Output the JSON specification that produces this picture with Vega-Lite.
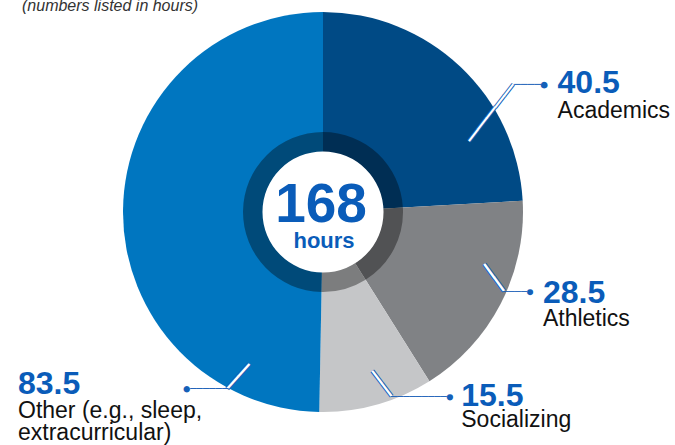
{
  "$schema": "https://vega.github.io/schema/vega-lite/v6.json",
  "width": 646,
  "height": 424,
  "autosize": "none",
  "padding": {"left": 0, "top": 0, "right": 29, "bottom": 21},
  "background": "white",
  "config": {"view": {"stroke": null}, "font": "Liberation Sans"},
  "data": {
    "values": [
      {"category": "Academics", "hours": 40.5, "order": 1, "name": ["Academics"]},
      {"category": "Athletics", "hours": 28.5, "order": 2, "name": ["Athletics"]},
      {"category": "Socializing", "hours": 15.5, "order": 3, "name": ["Socializing"]},
      {"category": "Other", "hours": 83.5, "order": 4, "name": ["Other (e.g., sleep,", "extracurricular)"]}
    ]
  },
  "transform": [
    {"stack": "hours", "groupby": [], "sort": [{"field": "order"}], "as": ["h0", "h1"]},
    {"calculate": "(datum.h0 + datum.h1) / 2", "as": "hmid"}
  ],
  "layer": [
    {
      "mark": {"type": "arc", "radius": 200},
      "encoding": {
        "theta": {"field": "h0", "type": "quantitative", "scale": {"domain": [0, 168]}},
        "theta2": {"field": "h1"},
        "color": {
          "field": "category", "type": "nominal", "legend": null,
          "scale": {"domain": ["Academics", "Athletics", "Socializing", "Other"],
                    "range": ["#004a85", "#808285", "#c5c6c8", "#0076c0"]}
        }
      }
    },
    {
      "mark": {"type": "arc", "radius": 80, "radius2": 60, "fill": "#000000", "fillOpacity": 0.37},
      "encoding": {
        "theta": {"field": "h0", "type": "quantitative"},
        "theta2": {"field": "h1"}
      }
    },
    {
      "transform": [{"filter": "datum.order == 1"}],
      "mark": {"type": "arc", "radius": 60.5, "fill": "#ffffff"},
      "encoding": {}
    },
    {
      "transform": [{"filter": "datum.order == 1"}],
      "mark": {"type": "text", "fontSize": 55, "fontWeight": "bold", "color": "#0a5cb9", "align": "center", "baseline": "alphabetic", "dx": -2, "dy": 10},
      "encoding": {"text": {"value": "168"}}
    },
    {
      "transform": [{"filter": "datum.order == 1"}],
      "mark": {"type": "text", "fontSize": 22, "fontWeight": "bold", "color": "#0a5cb9", "align": "center", "baseline": "alphabetic", "dx": 1, "dy": 36},
      "encoding": {"text": {"value": "hours"}}
    },
    {
      "transform": [{"filter": "datum.order == 1"}],
      "mark": {"type": "text", "fontSize": 16, "fontStyle": "italic", "color": "#333333", "align": "left", "baseline": "alphabetic", "dx": -301, "dy": -201},
      "encoding": {"text": {"value": "(numbers listed in hours)"}}
    },
    {
      "transform": [{"filter": "datum.category == 'Academics'"}],
      "mark": {"type": "text", "radius": 225, "font": "DejaVu Sans Mono", "fontSize": 23.8, "color": "#1560b8", "angle": -52.19, "align": "center", "baseline": "middle", "dx": -42.4, "dy": 51.1},
      "encoding": {"theta": {"field": "hmid", "type": "quantitative"}, "text": {"value": "━━━━━"}}
    },
    {
      "transform": [{"filter": "datum.category == 'Academics'"}],
      "mark": {"type": "text", "radius": 225, "font": "DejaVu Sans Mono", "fontSize": 23.8, "color": "#ffffff", "angle": -52.19, "align": "center", "baseline": "middle", "dx": -42.4, "dy": 51.1},
      "encoding": {"theta": {"field": "hmid", "type": "quantitative"}, "text": {"value": "─────"}}
    },
    {
      "transform": [{"filter": "datum.category == 'Academics'"}],
      "mark": {"type": "text", "radius": 225, "font": "DejaVu Sans Mono", "fontSize": 11.2, "color": "#1560b8", "align": "center", "baseline": "middle", "dx": 53.2, "dy": 36.5},
      "encoding": {"theta": {"field": "hmid", "type": "quantitative"}, "text": {"value": "────●"}}
    },
    {
      "transform": [{"filter": "datum.category == 'Athletics'"}],
      "mark": {"type": "text", "radius": 225, "font": "DejaVu Sans Mono", "fontSize": 27.4, "color": "#1560b8", "angle": 54.0, "align": "center", "baseline": "middle", "dx": -47.5, "dy": 2.5},
      "encoding": {"theta": {"field": "hmid", "type": "quantitative"}, "text": {"value": "━━"}}
    },
    {
      "transform": [{"filter": "datum.category == 'Athletics'"}],
      "mark": {"type": "text", "radius": 225, "font": "DejaVu Sans Mono", "fontSize": 27.4, "color": "#ffffff", "angle": 54.0, "align": "center", "baseline": "middle", "dx": -47.5, "dy": 2.5},
      "encoding": {"theta": {"field": "hmid", "type": "quantitative"}, "text": {"value": "──"}}
    },
    {
      "transform": [{"filter": "datum.category == 'Athletics'"}],
      "mark": {"type": "text", "radius": 225, "font": "DejaVu Sans Mono", "fontSize": 10.1, "color": "#1560b8", "align": "center", "baseline": "middle", "dx": -5.0, "dy": -23.6},
      "encoding": {"theta": {"field": "hmid", "type": "quantitative"}, "text": {"value": "────●"}}
    },
    {
      "transform": [{"filter": "datum.category == 'Socializing'"}],
      "mark": {"type": "text", "radius": 225, "font": "DejaVu Sans Mono", "fontSize": 26.1, "color": "#1560b8", "angle": 52.77, "align": "center", "baseline": "middle", "dx": -36.8, "dy": -25.3},
      "encoding": {"theta": {"field": "hmid", "type": "quantitative"}, "text": {"value": "━━"}}
    },
    {
      "transform": [{"filter": "datum.category == 'Socializing'"}],
      "mark": {"type": "text", "radius": 225, "font": "DejaVu Sans Mono", "fontSize": 26.1, "color": "#ffffff", "angle": 52.77, "align": "center", "baseline": "middle", "dx": -36.8, "dy": -25.3},
      "encoding": {"theta": {"field": "hmid", "type": "quantitative"}, "text": {"value": "──"}}
    },
    {
      "transform": [{"filter": "datum.category == 'Socializing'"}],
      "mark": {"type": "text", "radius": 225, "font": "DejaVu Sans Mono", "fontSize": 10.37, "color": "#1560b8", "align": "center", "baseline": "middle", "dx": 38.6, "dy": -31.3},
      "encoding": {"theta": {"field": "hmid", "type": "quantitative"}, "text": {"value": "─────────●"}}
    },
    {
      "transform": [{"filter": "datum.category == 'Other'"}],
      "mark": {"type": "text", "radius": 225, "font": "DejaVu Sans Mono", "fontSize": 27.1, "color": "#1560b8", "angle": -48.23, "align": "center", "baseline": "middle", "dx": -30.7, "dy": 216.7},
      "encoding": {"theta": {"field": "hmid", "type": "quantitative"}, "text": {"value": "━━"}}
    },
    {
      "transform": [{"filter": "datum.category == 'Other'"}],
      "mark": {"type": "text", "radius": 225, "font": "DejaVu Sans Mono", "fontSize": 27.1, "color": "#ffffff", "angle": -48.23, "align": "center", "baseline": "middle", "dx": -30.7, "dy": 216.7},
      "encoding": {"theta": {"field": "hmid", "type": "quantitative"}, "text": {"value": "──"}}
    },
    {
      "transform": [{"filter": "datum.category == 'Other'"}],
      "mark": {"type": "text", "radius": 225, "font": "DejaVu Sans Mono", "fontSize": 10.63, "color": "#1560b8", "align": "center", "baseline": "middle", "dx": 107.9, "dy": 179.4},
      "encoding": {"theta": {"field": "hmid", "type": "quantitative"}, "text": {"value": "●──────"}}
    },
    {
      "transform": [{"filter": "datum.category == 'Academics'"}],
      "mark": {"type": "text", "radius": 225, "fontSize": 32, "fontWeight": "bold", "color": "#0a5cb9", "align": "left", "baseline": "alphabetic", "dx": 80, "dy": 44.5},
      "encoding": {"theta": {"field": "hmid", "type": "quantitative"}, "text": {"field": "hours", "type": "quantitative", "format": ".1f"}}
    },
    {
      "transform": [{"filter": "datum.category == 'Academics'"}],
      "mark": {"type": "text", "radius": 225, "fontSize": 23, "color": "#111111", "align": "left", "baseline": "alphabetic", "dx": 80, "dy": 69.5},
      "encoding": {"theta": {"field": "hmid", "type": "quantitative"}, "text": {"field": "name"}}
    },
    {
      "transform": [{"filter": "datum.category == 'Athletics'"}],
      "mark": {"type": "text", "radius": 225, "fontSize": 32, "fontWeight": "bold", "color": "#0a5cb9", "align": "left", "baseline": "alphabetic", "dx": 20, "dy": -12},
      "encoding": {"theta": {"field": "hmid", "type": "quantitative"}, "text": {"field": "hours", "type": "quantitative", "format": ".1f"}}
    },
    {
      "transform": [{"filter": "datum.category == 'Athletics'"}],
      "mark": {"type": "text", "radius": 225, "fontSize": 23, "color": "#111111", "align": "left", "baseline": "alphabetic", "dx": 20, "dy": 11},
      "encoding": {"theta": {"field": "hmid", "type": "quantitative"}, "text": {"field": "name"}}
    },
    {
      "transform": [{"filter": "datum.category == 'Socializing'"}],
      "mark": {"type": "text", "radius": 225, "fontSize": 32, "fontWeight": "bold", "color": "#0a5cb9", "align": "left", "baseline": "alphabetic", "dx": 78, "dy": -23},
      "encoding": {"theta": {"field": "hmid", "type": "quantitative"}, "text": {"field": "hours", "type": "quantitative", "format": ".1f"}}
    },
    {
      "transform": [{"filter": "datum.category == 'Socializing'"}],
      "mark": {"type": "text", "radius": 225, "fontSize": 23, "color": "#111111", "align": "left", "baseline": "alphabetic", "dx": 78, "dy": -2},
      "encoding": {"theta": {"field": "hmid", "type": "quantitative"}, "text": {"field": "name"}}
    },
    {
      "transform": [{"filter": "datum.category == 'Other'"}],
      "mark": {"type": "text", "radius": 225, "fontSize": 32, "fontWeight": "bold", "color": "#0a5cb9", "align": "left", "baseline": "alphabetic", "dx": -80, "dy": 184},
      "encoding": {"theta": {"field": "hmid", "type": "quantitative"}, "text": {"field": "hours", "type": "quantitative", "format": ".1f"}}
    },
    {
      "transform": [{"filter": "datum.category == 'Other'"}],
      "mark": {"type": "text", "radius": 225, "fontSize": 23, "lineHeight": 22, "color": "#111111", "align": "left", "baseline": "alphabetic", "dx": -80, "dy": 208},
      "encoding": {"theta": {"field": "hmid", "type": "quantitative"}, "text": {"field": "name"}}
    }
  ]
}
